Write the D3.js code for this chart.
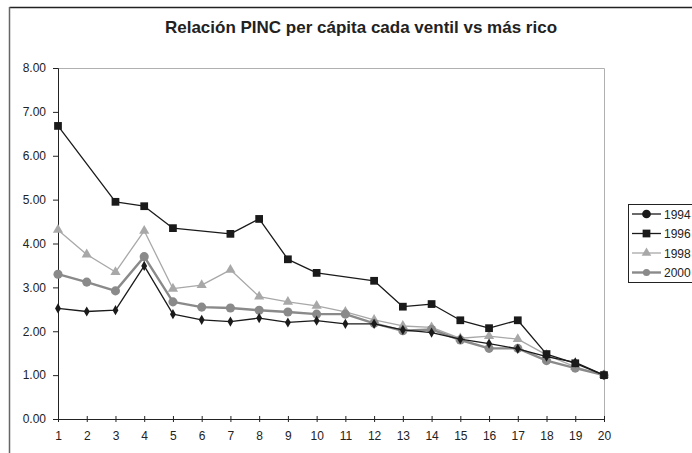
<!DOCTYPE html>
<html><head><meta charset="utf-8">
<script src="https://cdn.jsdelivr.net/npm/d3@7"></script>
<style>body{margin:0;background:#fff}svg{display:block;font-family:"Liberation Sans",Arial,sans-serif}</style>
</head><body><svg id="c" width="692" height="453"></svg>
<script>
const title = "Relación PINC per cápita cada ventil vs más rico";
const ventiles = d3.range(1, 21);
const yTicks = [0, 1, 2, 3, 4, 5, 6, 7, 8];
const seriesNames = ["1994", "1996", "1998", "2000"];
const v1994 = [2.52,2.45,2.48,3.49,2.39,2.26,2.22,2.30,2.20,2.24,2.17,2.17,2.03,1.97,1.82,1.72,1.60,1.42,1.29,1.00];
const v1996 = [6.68,null,4.95,4.85,4.35,null,4.22,4.56,3.64,3.33,null,3.15,2.56,2.62,2.25,2.07,2.25,1.48,1.27,1.00];
const v1998 = [4.31,3.75,3.35,4.29,2.97,3.05,3.40,2.79,2.67,2.58,2.44,2.26,2.12,2.09,1.84,1.89,1.82,1.46,1.19,1.00];
const v2000 = [3.30,3.12,2.92,3.70,2.67,2.55,2.53,2.48,2.44,2.39,2.39,2.18,2.01,2.04,1.80,1.61,1.61,1.33,1.16,1.00];

const styles = {
  "1994": {color:"#1a1a1a", width:1.3, sym:d3.symbolDiamond, size:30, legSym:d3.symbolCircle, legSize:60},
  "1996": {color:"#1a1a1a", width:1.3, sym:d3.symbolSquare, size:60, legSym:d3.symbolSquare, legSize:60},
  "1998": {color:"#a8a8a8", width:1.3, sym:d3.symbolTriangle, size:45, legSym:d3.symbolTriangle, legSize:40},
  "2000": {color:"#8a8a8a", width:2.4, sym:d3.symbolCircle, size:65, legSym:d3.symbolCircle, legSize:40}
};
const data = {"1994":v1994, "1996":v1996, "1998":v1998, "2000":v2000};

const svg = d3.select("#c");
svg.append("line").attr("x1",9.5).attr("x2",692).attr("y1",7.5).attr("y2",7.5).attr("stroke","#222").attr("stroke-width",1.5);
svg.append("line").attr("x1",9.5).attr("x2",9.5).attr("y1",7).attr("y2",453).attr("stroke","#666").attr("stroke-width",1.5);

const x = d3.scalePoint().domain(ventiles).range([58, 604]);
const y = d3.scaleLinear().domain([0, 8]).range([419, 68]);

svg.append("path").attr("d", `M58,68.5H604.5V419`).attr("fill","none").attr("stroke","#b0b0b0").attr("stroke-width",1);

svg.append("text").attr("x", 361).attr("y", 33).attr("text-anchor","middle")
  .attr("font-size", 17).attr("font-weight","bold").attr("fill","#222").text(title);

const ya = svg.append("g").attr("transform","translate(58,0)")
  .call(d3.axisLeft(y).tickValues(yTicks).tickFormat(d3.format(".2f")).tickSize(5).tickPadding(7));
ya.select(".domain").attr("stroke","#222");
ya.selectAll("line").attr("stroke","#222");
ya.selectAll("text").attr("font-size",12).attr("fill","#222").attr("font-family","Liberation Sans, Arial, sans-serif");

const xa = svg.append("g").attr("transform","translate(0,419)")
  .call(d3.axisBottom(x).tickSize(3).tickPadding(9));
xa.select(".domain").attr("stroke","#222");
xa.selectAll(".tick line").attr("stroke","#222").attr("y1",-3);
xa.selectAll("text").attr("font-size",12).attr("fill","#222").attr("font-family","Liberation Sans, Arial, sans-serif");

const line = d3.line().x(d => x(d.v)).y(d => y(d.y));
const order = ["1998","2000","1994","1996"];
order.forEach(name => {
  const st = styles[name];
  const pts = ventiles.map((v,i) => ({v, y:data[name][i]})).filter(d => d.y != null);
  svg.append("path").datum(pts).attr("d", line).attr("fill","none")
    .attr("stroke", st.color).attr("stroke-width", st.width).attr("stroke-linejoin","round");
  svg.append("g").selectAll("path").data(pts).join("path")
    .attr("transform", d => `translate(${x(d.v)},${y(d.y)})`)
    .attr("d", d3.symbol().type(st.sym).size(st.size)).attr("fill", st.color);
});

const lg = svg.append("g");
lg.append("rect").attr("x",628.5).attr("y",204.5).attr("width",80).attr("height",78)
  .attr("fill","#fff").attr("stroke","#222").attr("stroke-width",1);
seriesNames.forEach((name,i) => {
  const st = styles[name];
  const ly = 214 + i*19.5;
  lg.append("line").attr("x1",632).attr("x2",661).attr("y1",ly).attr("y2",ly)
    .attr("stroke",st.color).attr("stroke-width",st.width);
  lg.append("path").attr("transform",`translate(646.5,${ly})`)
    .attr("d", d3.symbol().type(st.legSym).size(st.legSize)).attr("fill",st.color);
  lg.append("text").attr("x",664).attr("y",ly+4.5).attr("font-size",12).attr("fill","#222").text(name);
});
</script></body></html>
